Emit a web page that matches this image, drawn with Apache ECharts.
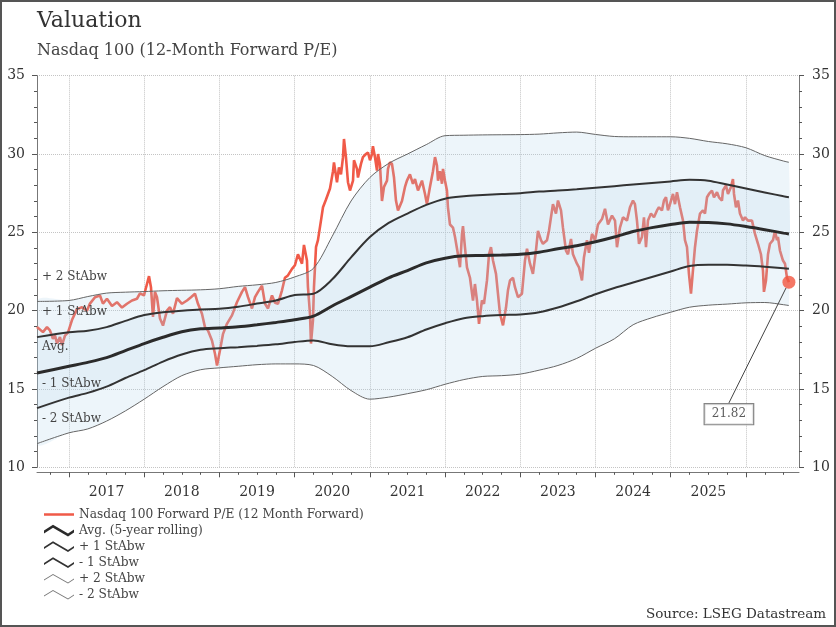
<!DOCTYPE html>
<html>
<head>
<meta charset="utf-8">
<title>Valuation</title>
<script src="https://cdn.jsdelivr.net/npm/echarts@6/dist/echarts.min.js"></script>
<style>
  html, body { margin: 0; padding: 0; background: #fff; }
  #wrap { position: relative; width: 836px; height: 627px; }
  #chart { position: absolute; left: 0; top: 0; width: 836px; height: 627px; }
  #frame { position: absolute; left: 0; top: 0; width: 836px; height: 627px;
           box-sizing: border-box; border: 2px solid #555; pointer-events: none; }
</style>
</head>
<body>
<div id="wrap"><div id="chart"></div><div id="frame"></div></div>
<script>
const FONT = "'DejaVu Serif', Georgia, serif";

// Nasdaq 100 forward P/E, [decimal year, value]
const peName = "Nasdaq 100 Forward P/E (12 Month Forward)";
const peData = [
  [2016.575, 18.95], [2016.654, 18.63], [2016.708, 18.95], [2016.747, 18.74], [2016.787, 18.2],
  [2016.814, 18.42], [2016.841, 17.9], [2016.880, 18.31], [2016.907, 17.8], [2016.947, 18.4],
  [2016.987, 18.6], [2017.040, 19.4], [2017.106, 20.1], [2017.173, 20.22], [2017.239, 20.0],
  [2017.279, 20.45], [2017.346, 20.86], [2017.412, 20.97], [2017.452, 20.45], [2017.505, 20.76],
  [2017.572, 20.3], [2017.638, 20.54], [2017.705, 20.2], [2017.771, 20.44], [2017.838, 20.65],
  [2017.904, 20.76], [2017.944, 21.1], [2017.997, 20.97], [2018.037, 21.7], [2018.064, 22.2],
  [2018.090, 21.5], [2018.117, 19.6], [2018.143, 21.2], [2018.170, 20.86], [2018.210, 19.5],
  [2018.250, 19.05], [2018.303, 20.0], [2018.343, 20.22], [2018.383, 19.8], [2018.436, 20.8],
  [2018.502, 20.44], [2018.569, 20.65], [2018.622, 20.86], [2018.675, 21.08], [2018.715, 20.44],
  [2018.768, 19.8], [2018.808, 18.95], [2018.848, 18.74], [2018.901, 18.1], [2018.941, 17.25],
  [2018.968, 16.5], [2019.007, 17.46], [2019.047, 18.5], [2019.100, 19.16], [2019.167, 19.7],
  [2019.233, 20.54], [2019.300, 21.2], [2019.340, 21.5], [2019.380, 20.86], [2019.433, 20.14],
  [2019.473, 20.86], [2019.513, 21.2], [2019.566, 21.6], [2019.606, 20.44], [2019.646, 20.14],
  [2019.699, 20.97], [2019.739, 20.5], [2019.778, 20.44], [2019.832, 21.3], [2019.871, 22.1],
  [2019.911, 22.25], [2019.965, 22.67], [2020.004, 22.9], [2020.044, 23.6], [2020.098, 23.0],
  [2020.124, 24.2], [2020.164, 23.2], [2020.177, 21.5], [2020.204, 19.8], [2020.217, 17.9],
  [2020.244, 19.4], [2020.257, 21.5], [2020.284, 24.05], [2020.310, 24.5], [2020.350, 25.75],
  [2020.377, 26.6], [2020.417, 27.1], [2020.443, 27.2], [2020.470, 27.8], [2020.510, 28.9],
  [2020.523, 29.47], [2020.563, 28.2], [2020.589, 29.15], [2020.616, 28.7], [2020.643, 29.8],
  [2020.656, 30.96], [2020.682, 29.8], [2020.709, 28.2], [2020.736, 27.67], [2020.776, 28.3],
  [2020.789, 29.6], [2020.829, 29.05], [2020.842, 28.5], [2020.882, 29.37], [2020.908, 29.8],
  [2020.948, 30.0], [2020.975, 30.1], [2021.002, 29.6], [2021.028, 30.0], [2021.041, 30.5],
  [2021.068, 29.8], [2021.095, 28.94], [2021.108, 30.0], [2021.134, 29.37], [2021.161, 27.0],
  [2021.188, 27.9], [2021.228, 28.3], [2021.241, 29.05], [2021.267, 29.47], [2021.294, 29.37],
  [2021.321, 28.5], [2021.347, 27.03], [2021.374, 26.4], [2021.427, 27.0], [2021.467, 27.9],
  [2021.493, 28.3], [2021.533, 28.7], [2021.573, 28.1], [2021.600, 28.4], [2021.640, 27.67],
  [2021.693, 28.3], [2021.733, 27.45], [2021.759, 26.8], [2021.799, 27.9], [2021.839, 28.9],
  [2021.866, 29.8], [2021.892, 29.26], [2021.906, 28.3], [2021.932, 28.9], [2021.959, 28.1],
  [2021.972, 29.05], [2021.999, 28.3], [2022.025, 27.67], [2022.038, 26.6], [2022.065, 25.5],
  [2022.105, 25.3], [2022.132, 24.7], [2022.171, 23.6], [2022.198, 22.77], [2022.225, 24.9],
  [2022.238, 25.4], [2022.264, 24.05], [2022.291, 22.77], [2022.331, 22.1], [2022.371, 20.65],
  [2022.397, 21.7], [2022.424, 20.65], [2022.451, 19.16], [2022.490, 20.65], [2022.517, 20.44],
  [2022.557, 21.93], [2022.584, 23.6], [2022.610, 24.05], [2022.637, 23.2], [2022.677, 22.35],
  [2022.703, 21.08], [2022.730, 19.8], [2022.770, 19.06], [2022.810, 20.2], [2022.836, 21.3],
  [2022.863, 21.93], [2022.903, 22.1], [2022.929, 21.5], [2022.969, 20.86], [2023.022, 21.08],
  [2023.062, 23.2], [2023.089, 23.95], [2023.129, 23.0], [2023.168, 22.35], [2023.208, 23.84],
  [2023.235, 25.1], [2023.275, 24.5], [2023.301, 24.27], [2023.355, 24.5], [2023.381, 25.1],
  [2023.434, 26.8], [2023.474, 26.2], [2023.501, 27.03], [2023.541, 26.4], [2023.567, 25.3],
  [2023.607, 23.84], [2023.634, 23.6], [2023.674, 24.58], [2023.700, 23.6], [2023.753, 23.0],
  [2023.780, 22.77], [2023.820, 21.93], [2023.846, 23.4], [2023.886, 24.5], [2023.913, 23.7],
  [2023.953, 24.9], [2023.993, 24.5], [2024.033, 25.5], [2024.086, 25.85], [2024.126, 26.5],
  [2024.166, 25.5], [2024.219, 26.07], [2024.259, 25.75], [2024.285, 24.05], [2024.325, 25.3],
  [2024.365, 25.96], [2024.418, 25.75], [2024.458, 26.6], [2024.498, 27.03], [2024.524, 26.8],
  [2024.551, 25.75], [2024.578, 24.27], [2024.617, 24.7], [2024.644, 25.96], [2024.671, 24.05],
  [2024.697, 25.75], [2024.737, 26.2], [2024.777, 25.96], [2024.817, 26.4], [2024.843, 26.6],
  [2024.883, 26.4], [2024.910, 27.03], [2024.937, 27.24], [2024.963, 26.4], [2024.990, 26.8],
  [2025.030, 27.45], [2025.056, 26.8], [2025.083, 27.56], [2025.123, 26.6], [2025.163, 25.75],
  [2025.189, 24.5], [2025.216, 24.05], [2025.242, 22.35], [2025.269, 21.08], [2025.295, 22.56],
  [2025.322, 24.05], [2025.349, 25.1], [2025.389, 26.2], [2025.428, 26.4], [2025.455, 26.2],
  [2025.482, 27.24], [2025.508, 27.45], [2025.548, 27.67], [2025.575, 27.24], [2025.615, 27.56],
  [2025.641, 27.24], [2025.681, 27.03], [2025.694, 27.67], [2025.734, 28.0], [2025.761, 27.45],
  [2025.801, 27.9], [2025.827, 28.4], [2025.841, 27.45], [2025.867, 26.6], [2025.894, 27.03],
  [2025.920, 26.2], [2025.960, 25.75], [2025.987, 25.96], [2026.027, 25.75], [2026.080, 25.75],
  [2026.120, 24.9], [2026.160, 24.27], [2026.199, 23.6], [2026.226, 22.56], [2026.239, 21.2],
  [2026.266, 21.93], [2026.293, 23.6], [2026.319, 24.27], [2026.359, 24.5], [2026.386, 25.1],
  [2026.412, 24.5], [2026.425, 24.7], [2026.452, 23.84], [2026.492, 23.2], [2026.519, 23.0],
  [2026.545, 22.1], [2026.571, 21.82]
];

// rolling average and standard-deviation bands, quarterly
const bandDates = [
  2016.575,
  2017, 2017.25, 2017.5, 2017.75, 2018, 2018.25, 2018.5, 2018.75,
  2019, 2019.25, 2019.5, 2019.75, 2020, 2020.25, 2020.5, 2020.75,
  2021, 2021.25, 2021.5, 2021.75, 2022, 2022.25, 2022.5, 2022.75,
  2023, 2023.25, 2023.5, 2023.75, 2024, 2024.25, 2024.5, 2024.75,
  2025, 2025.25, 2025.5, 2025.75, 2026, 2026.25, 2026.5,
  2026.571
];
const avgValues = [
  16.02,
  16.45, 16.7, 17.0, 17.45, 17.9, 18.3, 18.65, 18.84,
  18.9, 18.97, 19.1, 19.25, 19.42, 19.65, 20.3, 20.9,
  21.5, 22.1, 22.56, 23.05, 23.35, 23.5, 23.52, 23.55,
  23.6, 23.73, 23.95, 24.15, 24.4, 24.7, 25.05, 25.3,
  25.5, 25.64, 25.63, 25.54, 25.37, 25.17, 24.95,
  24.9
];
const plus1Values = [
  18.31,
  18.62, 18.72, 18.95, 19.35, 19.72, 19.9, 20.0, 20.08,
  20.12, 20.25, 20.45, 20.65, 21.0, 21.08, 22.0, 23.4,
  24.7, 25.6, 26.2, 26.75, 27.15, 27.3, 27.38, 27.45,
  27.5, 27.6, 27.67, 27.75, 27.85, 27.95, 28.05, 28.15,
  28.25, 28.35, 28.3, 28.05, 27.8, 27.55, 27.3,
  27.24
];
const minus1Values = [
  13.78,
  14.45, 14.75, 15.15, 15.7, 16.2, 16.75, 17.2, 17.5,
  17.6, 17.67, 17.75, 17.85, 18.0, 18.1, 17.85, 17.72,
  17.72, 17.98, 18.3, 18.8, 19.2, 19.52, 19.65, 19.72,
  19.76, 19.9, 20.2, 20.6, 21.05, 21.45, 21.8, 22.15,
  22.5, 22.85, 22.93, 22.93, 22.88, 22.8, 22.7,
  22.67
];
const plus2Values = [
  20.59,
  20.65, 20.9, 21.12, 21.18, 21.22, 21.27, 21.3, 21.33,
  21.4, 21.55, 21.65, 21.8, 22.15, 22.7, 24.75, 27.0,
  28.5, 29.4, 30.0, 30.6, 31.17, 31.2, 31.22, 31.23,
  31.24, 31.27, 31.35, 31.4, 31.25, 31.12, 31.1, 31.1,
  31.1, 31.0, 30.8, 30.65, 30.4, 29.9, 29.55,
  29.47
];
const minus2Values = [
  11.51,
  12.2, 12.45, 12.95, 13.6, 14.35, 15.15, 15.85, 16.23,
  16.35, 16.45, 16.55, 16.6, 16.6, 16.5, 15.8, 14.9,
  14.35, 14.48, 14.7, 14.95, 15.3, 15.6, 15.8, 15.85,
  15.95, 16.2, 16.5, 16.95, 17.6, 18.2, 19.1, 19.55,
  19.9, 20.22, 20.35, 20.42, 20.5, 20.52, 20.38,
  20.33
];

// axis ticks and labels
const yearTicks = [2017, 2018, 2019, 2020, 2021, 2022, 2023, 2024, 2025, 2026];
const yearLabels = [2017.5, 2018.5, 2019.5, 2020.5, 2021.5, 2022.5, 2023.5, 2024.5, 2025.5];
const xMin = 2016.575;
const xMax = 2026.705;

const avgName = "Avg. (5-year rolling)";
const plus1Name = "+ 1 StAbw";
const minus1Name = "- 1 StAbw";
const plus2Name = "+ 2 StAbw";
const minus2Name = "- 2 StAbw";

// quarterly minor ticks between the year ticks
const quarterTicks = [];
for (let y = 2016; y <= 2026; y++) {
  [0.25, 0.5, 0.75].forEach((q) => {
    if (y + q > xMin && y + q < xMax) quarterTicks.push(y + q);
  });
}

const pair = (xs, ys) => xs.map((x, i) => [x, ys[i]]);
const lastPoint = peData[peData.length - 1];

const RED = "#f05a48";
const OUTER_FILL = "rgba(175,208,232,0.22)";
const INNER_FILL = "rgba(175,208,232,0.15)";
const SMOOTH = 0.3;

// legend glyphs; the tiny zero-area bits at top and bottom pin the box to 30x13
const PIN = "M0,0L0.01,0ZM0,13L0.01,13Z";
const redBar = "path://" + PIN + "M0,5.2H30V7.8H0Z";
const zigThick = "path://" + PIN + "M0,6.5L9,0.8L24,9.5L30,5.5L30,8.5L24,12.5L9,3.8L0,9.5Z";
const zigMid = "path://" + PIN + "M0,7L9,1.3L24,10L30,6L30,8L24,12L9,3.3L0,9Z";
const zigThin = "path://" + PIN + "M0,7.6L9,1.9L24,10.6L30,6.6L30,7.6L24,11.6L9,2.9L0,8.6Z";

const chart = echarts.init(document.getElementById("chart"), null, { renderer: "canvas" });

// translucent band drawn as one polygon between two curves
function bandRenderer(upper, lower, fill) {
  return function (params, api) {
    const top = bandDates.map((d, i) => api.coord([d, upper[i]]));
    const bottom = bandDates.map((d, i) => api.coord([d, lower[i]])).reverse();
    return {
      type: "polygon",
      shape: { points: top.concat(bottom), smooth: SMOOTH },
      style: { fill: fill },
    };
  };
}

const lineBase = {
  type: "line",
  xAxisIndex: 0,
  yAxisIndex: 0,
  symbol: "none",
  silent: true,
  animation: false,
};

const yAxisBase = {
  type: "value",
  min: 10,
  max: 35,
  interval: 5,
  axisLine: { show: true, onZero: false, lineStyle: { color: "#777", width: 1 } },
  axisTick: { show: true, length: 5, lineStyle: { color: "#555" } },
  minorTick: { show: true, splitNumber: 5, length: 3, lineStyle: { color: "#555" } },
  axisLabel: { fontFamily: FONT, fontSize: 14, color: "#333", margin: 12 },
};

const option = {
  backgroundColor: "#fff",
  animation: false,
  title: [
    {
      text: "Valuation",
      subtext: "Nasdaq 100 (12-Month Forward P/E)",
      left: 37,
      top: 10,
      padding: 0,
      itemGap: 11,
      textStyle: { fontFamily: FONT, fontSize: 22, fontWeight: "normal", color: "#333" },
      subtextStyle: { fontFamily: FONT, fontSize: 16, color: "#444" },
    },
    {
      text: "Source: LSEG Datastream",
      right: 10,
      bottom: 6,
      padding: 0,
      textStyle: { fontFamily: FONT, fontSize: 13.5, fontWeight: "normal", color: "#333" },
    },
  ],
  legend: {
    orient: "vertical",
    left: 44,
    top: 508,
    padding: 0,
    itemWidth: 30,
    itemHeight: 13,
    itemGap: 3,
    selectedMode: false,
    textStyle: { fontFamily: FONT, fontSize: 12.2, color: "#444" },
    data: [
      { name: peName, icon: redBar, itemStyle: { color: RED, borderWidth: 0 } },
      { name: avgName, icon: zigThick, itemStyle: { color: "#2b2b2b", borderWidth: 0 } },
      { name: plus1Name, icon: zigMid, itemStyle: { color: "#333", borderWidth: 0 } },
      { name: minus1Name, icon: zigMid, itemStyle: { color: "#333", borderWidth: 0 } },
      { name: plus2Name, icon: zigThin, itemStyle: { color: "#777", borderWidth: 0 } },
      { name: minus2Name, icon: zigThin, itemStyle: { color: "#777", borderWidth: 0 } },
    ],
  },
  grid: { left: 37, right: 37, top: 75.7, bottom: 159.7 },
  xAxis: [
    {
      type: "value",
      min: xMin,
      max: xMax,
      position: "bottom",
      offset: 5,
      axisLine: { show: true, onZero: false, lineStyle: { color: "#777", width: 1 } },
      axisTick: { show: true, length: 5, customValues: yearTicks, lineStyle: { color: "#555" } },
      axisLabel: {
        customValues: yearLabels,
        formatter: (v) => String(Math.floor(v)),
        fontFamily: FONT,
        fontSize: 14,
        color: "#333",
        margin: 13,
      },
      splitLine: { show: true, lineStyle: { color: "#c4c4c4", type: "dotted", width: 1 } },
    },
    {
      type: "value",
      min: xMin,
      max: xMax,
      position: "bottom",
      offset: 5,
      axisLine: { show: false },
      axisTick: { show: true, length: 2.5, customValues: quarterTicks, lineStyle: { color: "#555" } },
      axisLabel: { show: false },
      splitLine: { show: false },
    },
  ],
  yAxis: [
    Object.assign({}, yAxisBase, {
      position: "left",
      splitLine: { show: true, lineStyle: { color: "#c4c4c4", type: "dotted", width: 1 } },
    }),
    Object.assign({}, yAxisBase, {
      position: "right",
      splitLine: { show: false },
      axisLabel: Object.assign({}, yAxisBase.axisLabel, { margin: 13 }),
    }),
  ],
  series: [
    Object.assign({}, lineBase, {
      name: peName,
      data: peData,
      z: 2,
      lineStyle: { color: RED, width: 2.6 },
      itemStyle: { color: RED },
    }),
    // band fills sit over the P/E line, which mutes it inside the bands
    {
      type: "custom",
      name: "outerBand",
      data: [[bandDates[0], minus2Values[0]]],
      renderItem: bandRenderer(plus2Values, minus2Values, OUTER_FILL),
      clip: true,
      silent: true,
      animation: false,
      z: 3,
    },
    {
      type: "custom",
      name: "innerBand",
      data: [[bandDates[0], minus1Values[0]]],
      renderItem: bandRenderer(plus1Values, minus1Values, INNER_FILL),
      clip: true,
      silent: true,
      animation: false,
      z: 3,
    },
    Object.assign({}, lineBase, {
      name: plus2Name,
      data: pair(bandDates, plus2Values),
      smooth: SMOOTH,
      z: 4,
      lineStyle: { color: "#666", width: 1 },
      itemStyle: { color: "#777" },
    }),
    Object.assign({}, lineBase, {
      name: minus2Name,
      data: pair(bandDates, minus2Values),
      smooth: SMOOTH,
      z: 4,
      lineStyle: { color: "#666", width: 1 },
      itemStyle: { color: "#777" },
    }),
    Object.assign({}, lineBase, {
      name: plus1Name,
      data: pair(bandDates, plus1Values),
      smooth: SMOOTH,
      z: 4,
      lineStyle: { color: "#333", width: 2 },
      itemStyle: { color: "#333" },
    }),
    Object.assign({}, lineBase, {
      name: minus1Name,
      data: pair(bandDates, minus1Values),
      smooth: SMOOTH,
      z: 4,
      lineStyle: { color: "#333", width: 2 },
      itemStyle: { color: "#333" },
    }),
    Object.assign({}, lineBase, {
      name: avgName,
      data: pair(bandDates, avgValues),
      smooth: SMOOTH,
      z: 5,
      lineStyle: { color: "#2b2b2b", width: 3 },
      itemStyle: { color: "#2b2b2b" },
    }),
    {
      type: "scatter",
      name: "latest",
      data: [lastPoint],
      symbolSize: 13,
      z: 6,
      silent: true,
      animation: false,
      itemStyle: { color: "#f2553f" },
      label: {
        show: true,
        position: "inside",
        formatter: (p) => p.value[1].toFixed(2),
        fontFamily: FONT,
        fontSize: 12,
        color: "#333",
        backgroundColor: "#fff",
        borderColor: "#666",
        borderWidth: 1.2,
        padding: [4, 7],
      },
      labelLine: { show: true, lineStyle: { color: "#444", width: 1 } },
      labelLayout: { dx: -60, dy: 132 },
    },
  ],
  // band names written on the left edge of the plot
  graphic: [
    [plus2Name, 279], [plus1Name, 314], ["Avg.", 349], [minus1Name, 386], [minus2Name, 421],
  ].map(([text, y]) => ({
    type: "text",
    left: 42,
    top: y - 8,
    z: 10,
    silent: true,
    style: { text: text, font: "12px " + FONT, fill: "#444" },
  })),
};

chart.setOption(option);
</script>
</body>
</html>
